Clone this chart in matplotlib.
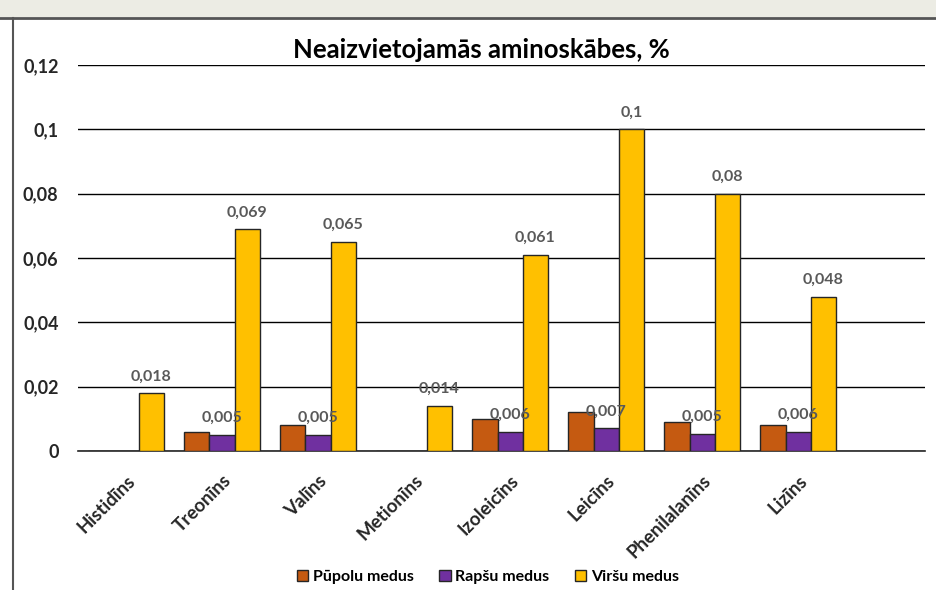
import numpy as np
import matplotlib.pyplot as plt
from matplotlib.lines import Line2D
from matplotlib.patches import Rectangle

plt.rcParams['font.family'] = ['Lato', 'DejaVu Sans']

categories = ['Histidīns', 'Treonīns', 'Valīns', 'Metionīns', 'Izoleicīns',
              'Leicīns', 'Phenilalanīns', 'Lizīns']
pupolu = [0, 0.006, 0.008, 0, 0.010, 0.012, 0.009, 0.008]
rapsu = [0, 0.005, 0.005, 0, 0.006, 0.007, 0.0054, 0.006]
virsu = [0.018, 0.069, 0.065, 0.014, 0.061, 0.1, 0.08, 0.048]
series_names = ['Pūpolu medus', 'Rapšu medus', 'Viršu medus']
colors = ['#C55A11', '#7030A0', '#FFC000']
yticks = [0, 0.02, 0.04, 0.06, 0.08, 0.1, 0.12]


def fmt(v):
    s = ('%.3f' % v).rstrip('0').rstrip('.')
    return s.replace('.', ',')


fig = plt.figure(figsize=(9.37, 5.9), dpi=100)
ax = fig.add_axes([78/937, 139/590, 847/937, 386/590])

x = np.arange(len(categories))
w = 0.262
bars = []
for i, (vals, c) in enumerate(zip([pupolu, rapsu, virsu], colors)):
    b = ax.bar(x + (i - 1) * w, vals, w, color=c, edgecolor='#262626',
               linewidth=1.0, zorder=3, label=series_names[i])
    bars.append(b)

# value labels only for Rapšu and Viršu
for vals, off in [(rapsu, 0), (virsu, w)]:
    for xi, v in zip(x, vals):
        if v > 0:
            ax.annotate(fmt(v), (xi + off, v), xytext=(0, 7),
                        textcoords='offset points', ha='center', va='bottom',
                        fontsize=11.5, fontweight='bold', color='#595959',
                        zorder=5)

ax.set_ylim(0, 0.12)
ax.set_xlim(-0.5, 8.32)
ax.set_yticks(yticks)
ax.set_yticklabels([fmt(t) for t in yticks], fontsize=13, fontweight='bold',
                   color='#262626')
ax.set_xticks(x)
ax.set_xticklabels(categories, rotation=45, ha='right', rotation_mode='anchor',
                   fontsize=13.5, fontweight='bold', color='#262626')
ax.tick_params(axis='both', length=0)
ax.tick_params(axis='y', pad=14)
ax.tick_params(axis='x', pad=15)
ax.yaxis.grid(True, color='#000000', linewidth=1.0, zorder=0)
for s in ['left', 'right', 'top']:
    ax.spines[s].set_visible(False)
ax.spines['bottom'].set_color('#262626')
ax.spines['bottom'].set_linewidth(1.2)

fig.text(481/937, 1 - 50/590, 'Neaizvietojamās aminoskābes, %', ha='center',
         va='center', fontsize=18.5, fontweight='bold', color='#000000')

fig.legend(handles=bars, loc='center', bbox_to_anchor=(488/937, 1 - 577/590),
           ncol=3, frameon=False, prop={'weight': 'bold', 'size': 11.5},
           handlelength=0.7, handleheight=0.7, handletextpad=0.3,
           columnspacing=1.6)

# window strip and frame lines
fig.patches.append(Rectangle((0, 1 - 17/590), 1, 17/590, transform=fig.transFigure,
                             facecolor='#ECECE4', edgecolor='none', zorder=0))
fig.lines.append(Line2D([0, 1], [1 - 18/590, 1 - 18/590], transform=fig.transFigure,
                        color='#555555', linewidth=2))
fig.lines.append(Line2D([13/937, 13/937], [0, 1 - 18/590], transform=fig.transFigure,
                        color='#555555', linewidth=1.5))

fig.savefig('out.png', dpi=100)
